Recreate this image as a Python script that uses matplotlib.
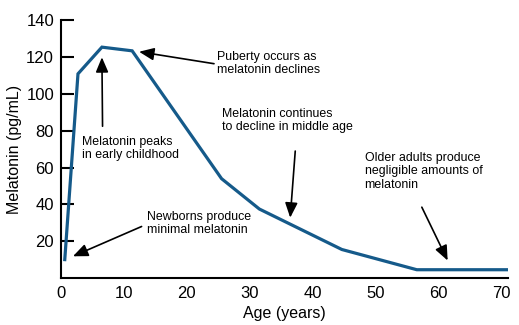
import matplotlib.pyplot as plt

plt.rcParams['font.family'] = ['Liberation Sans', 'DejaVu Sans']

# Melatonin level over life span
age = [0.6, 2.7, 6.5, 11.3, 25.5, 31.5, 44.6, 56.5, 71]
melatonin = [10, 111, 125.5, 123.5, 54, 37.5, 15.5, 4.5, 4.5]

y_ticks = [20, 40, 60, 80, 100, 120, 140]
x_ticks = [0, 10, 20, 30, 40, 50, 60, 70]

# annotations: text, text position (data), arrow tip (data)
notes = [
    ('Puberty occurs as\nmelatonin declines', (24.7, 116.5), (12.4, 123.0)),
    ('Melatonin peaks\nin early childhood', (3.3, 70.5), (6.5, 120.0)),
    ('Melatonin continues\nto decline in middle age', (25.5, 85.5), (36.4, 32.8)),
    ('Newborns produce\nminimal melatonin', (13.6, 29.5), (1.9, 11.8)),
    ('Older adults produce\nnegligible amounts of\nmelatonin', (48.2, 58.0), (61.4, 9.5)),
]
tails = [(24.3, 116.5), (6.6, 82.5), (37.2, 69.0), (12.8, 28.0), (57.3, 38.5)]

fig = plt.figure(figsize=(5.19, 3.25), dpi=100)
ax = fig.add_axes([0.1175, 0.1446, 0.8615, 0.7924])

ax.plot(age, melatonin, color='#155a8a', lw=2.3, solid_joinstyle='miter')

for (txt, pos, tip), tail in zip(notes, tails):
    ax.annotate('', xy=tip, xytext=tail,
                arrowprops=dict(arrowstyle='-|>,head_length=0.9,head_width=0.38',
                                color='black', lw=1.2, shrinkA=0, shrinkB=0))
    ax.text(pos[0], pos[1], txt, fontsize=8.9, ha='left', va='center',
            linespacing=1.15)

ax.set_xlim(0, 71)
ax.set_ylim(0, 140)
ax.set_xticks(x_ticks)
ax.set_yticks(y_ticks)
ax.tick_params(axis='y', direction='in', length=9.5, width=1.5, labelsize=12, pad=5)
ax.tick_params(axis='x', length=0, labelsize=12, pad=6)
for s in ['top', 'right']:
    ax.spines[s].set_visible(False)
for s in ['left', 'bottom']:
    ax.spines[s].set_linewidth(1.5)

ax.set_xlabel('Age (years)', fontsize=11.5, labelpad=3)
ax.set_ylabel('Melatonin (pg/mL)', fontsize=11.5, labelpad=3)

fig.savefig('out.png', dpi=100)
